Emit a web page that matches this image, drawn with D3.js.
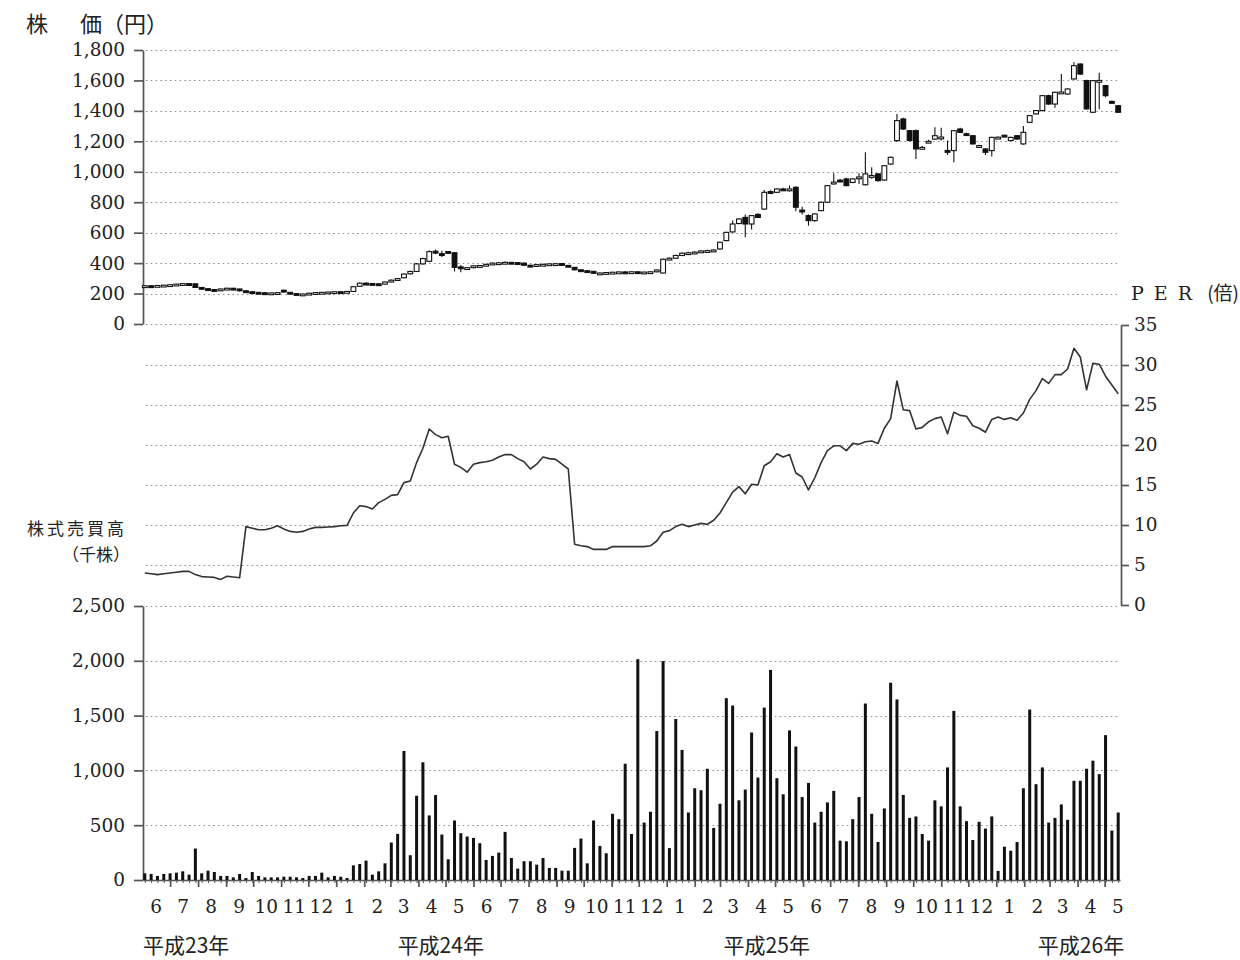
<!DOCTYPE html>
<html>
<head>
<meta charset="utf-8">
<script src="https://cdn.jsdelivr.net/npm/d3@7"></script>
<style>
  body { margin: 0; background: #fff; }
  svg { display: block; }
</style>
</head>
<body>
<svg id="chart" width="1240" height="960"></svg>
<script>
// weekly data, Friday 2011-06-03 .. Friday 2014-05-16 (155 weeks)
const priceOpen = [250,251,250,253,255,258,262,265,264,240,232,226,222,230,235,230,218,212,208,205,204,204,222,208,200,195,197,202,206,208,210,212,211,214,248,268,266,264,262,276,288,304,330,345,395,412,478,462,476,468,375,365,370,380,384,392,400,402,405,403,400,386,382,390,392,395,397,385,372,356,350,346,333,335,338,340,342,341,343,340,341,343,335,425,432,450,465,468,472,480,482,493,548,605,660,700,657,720,755,870,865,887,885,898,748,712,679,745,800,925,945,953,930,962,915,965,986,946,1051,1205,1347,1270,1270,1155,1195,1215,1222,1140,1139,1281,1250,1237,1170,1150,1139,1224,1240,1205,1237,1183,1325,1380,1402,1500,1445,1518,1511,1610,1708,1599,1391,1596,1566,1462,1434]
const priceHigh = [254,254,255,258,260,265,268,270,266,242,236,230,234,238,237,232,220,214,210,208,207,210,225,210,202,200,205,208,210,212,214,215,216,248,272,275,270,268,280,292,302,332,350,400,435,485,490,482,480,472,388,375,386,388,396,404,406,410,408,405,402,390,394,396,398,400,400,388,375,358,352,348,338,340,343,345,346,346,345,344,346,358,430,438,455,470,474,478,484,488,492,540,606,680,695,720,716,728,880,878,892,895,910,905,770,720,726,805,912,990,952,960,958,990,1128,1030,992,1045,1100,1380,1355,1275,1278,1170,1210,1292,1290,1205,1275,1290,1256,1242,1178,1155,1230,1232,1244,1230,1242,1300,1372,1406,1504,1506,1526,1642,1548,1720,1712,1604,1602,1650,1572,1468,1438]
const priceLow = [247,248,248,251,253,256,260,260,236,228,222,218,220,228,228,214,208,204,202,201,201,202,207,197,192,192,195,200,204,205,207,209,208,212,245,262,260,258,260,274,285,300,326,342,390,405,460,440,460,345,340,360,366,376,380,388,396,398,398,396,382,378,380,386,388,390,382,374,352,346,342,330,330,332,335,337,338,338,336,337,338,340,332,420,428,446,458,462,468,474,476,488,544,600,655,570,620,696,750,855,860,878,870,740,720,646,672,740,795,915,935,905,925,920,910,955,935,940,1045,1195,1275,1200,1084,1150,1190,1210,1205,1110,1062,1255,1244,1180,1166,1110,1100,1220,1230,1200,1210,1178,1320,1376,1398,1440,1420,1515,1506,1605,1636,1408,1386,1410,1490,1446,1386]
const priceClose = [251,250,253,255,258,262,265,264,240,232,226,222,230,235,232,218,212,208,205,204,204,206,210,200,195,197,202,206,208,210,212,211,214,245,268,266,264,262,276,288,298,328,345,395,430,475,466,460,466,372,366,370,382,384,392,400,402,405,403,400,386,382,390,392,395,396,385,378,356,350,346,333,335,338,340,342,341,343,340,341,343,355,425,432,450,465,468,472,480,482,486,537,602,657,690,657,712,700,865,862,887,885,887,767,745,679,723,800,909,932,940,909,953,966,986,975,942,1040,1095,1336,1281,1205,1150,1160,1200,1237,1228,1128,1270,1259,1248,1183,1172,1128,1226,1227,1234,1226,1215,1259,1369,1402,1500,1445,1522,1524,1544,1697,1642,1413,1599,1600,1500,1450,1391]
const perValues = [4.0,3.9,3.8,3.9,4.0,4.1,4.2,4.2,3.8,3.55,3.5,3.45,3.2,3.6,3.5,3.4,9.8,9.6,9.4,9.4,9.6,9.9,9.5,9.2,9.1,9.2,9.5,9.7,9.7,9.75,9.8,9.9,9.95,11.5,12.4,12.3,12.0,12.8,13.2,13.7,13.8,15.3,15.5,17.8,19.6,22.0,21.3,20.9,21.1,17.6,17.2,16.6,17.6,17.8,17.9,18.1,18.5,18.8,18.8,18.3,17.9,17.0,17.6,18.5,18.3,18.2,17.6,17.0,7.6,7.4,7.3,6.95,6.95,6.95,7.3,7.3,7.3,7.3,7.3,7.3,7.4,8.0,9.1,9.3,9.8,10.1,9.8,10.0,10.2,10.1,10.6,11.5,12.8,14.1,14.8,13.9,15.1,15.0,17.4,17.9,18.9,18.5,18.8,16.5,16.0,14.4,15.9,17.8,19.3,19.9,19.9,19.3,20.2,20.1,20.4,20.5,20.2,22.1,23.3,28.0,24.4,24.3,22.0,22.2,22.9,23.3,23.5,21.4,24.1,23.7,23.6,22.4,22.1,21.6,23.2,23.5,23.2,23.4,23.1,24.0,25.7,26.8,28.3,27.7,28.8,28.8,29.5,32.1,31.0,26.9,30.2,30.1,28.6,27.5,26.4]
const volumeValues = [61,55,37,55,61,67,79,49,287,61,85,73,37,37,24,55,18,73,37,24,24,24,30,30,24,18,37,37,67,24,37,30,18,134,146,177,49,79,152,342,421,1177,226,769,1074,589,775,415,189,543,427,397,384,336,183,220,250,439,201,104,171,171,140,201,110,110,85,85,293,378,152,543,311,244,604,555,1061,420,2015,524,623,1359,1997,291,1469,1187,616,837,819,1015,475,696,1659,1592,727,825,1346,935,1573,1917,929,782,1365,1218,757,886,524,623,708,813,359,353,555,757,1610,604,347,653,1800,1647,776,567,580,420,359,727,672,1027,1543,672,537,365,531,469,580,83,304,267,347,837,1555,874,1027,524,567,690,549,905,905,1015,1089,966,1322,451,616]

const priceTicks = [0,200,400,600,800,1000,1200,1400,1600,1800]
const perTicks = [0,5,10,15,20,25,30,35]
const volumeTicks = [0,500,1000,1500,2000,2500]
const yearLabels = ['平成23年','平成24年','平成25年','平成26年']
const yearLabelDates = [new Date(2011,5,1), new Date(2012,2,9), new Date(2013,2,5), new Date(2014,1,16)]

const weeks = d3.timeFriday.range(new Date(2011,5,3), new Date(2014,4,17))
const months = d3.timeMonth.range(new Date(2011,5,1), new Date(2014,4,18))

const $svg = d3.select('#chart')
const serif = '"DejaVu Serif", serif'
const cjk = '"Noto Sans CJK JP", sans-serif'
const axisColor = '#555'

const x = d3.scaleTime()
	.domain([new Date(2011,5,1), new Date(2014,4,18)])
	.range([143, 1120])
const yPrice = d3.scaleLinear().domain([0, 1800]).range([324, 50])
const yPer = d3.scaleLinear().domain([0, 35]).range([605, 325])
const yVol = d3.scaleLinear().domain([0, 2500]).range([880, 606])

// dotted grid
const drawGrid = (scale, values) => {
	$svg.append('g')
		.selectAll('line')
		.data(values)
		.join('line')
		.attr('x1', 146)
		.attr('x2', 1120)
		.attr('y1', d => Math.round(scale(d)) + 0.5)
		.attr('y2', d => Math.round(scale(d)) + 0.5)
		.attr('stroke', '#8c8c8c')
		.attr('stroke-width', 1.2)
		.attr('stroke-dasharray', '1.6,3.2')
}
drawGrid(yPrice, priceTicks)
drawGrid(yPer, perTicks.slice(1, 7))
drawGrid(yVol, volumeTicks.slice(1))

const styleAxis = ($g, size) => {
	$g.selectAll('path, line').attr('stroke', axisColor).attr('stroke-width', 1.7)
	$g.selectAll('text')
		.attr('fill', '#222')
		.style('font-family', serif)
		.style('font-size', size + 'px')
}

// price axis
const $priceAxis = $svg.append('g')
	.attr('transform', 'translate(143,0)')
	.call(d3.axisLeft(yPrice).tickValues(priceTicks).tickSize(9).tickSizeOuter(0)
		.tickPadding(9).tickFormat(d3.format(',')))
styleAxis($priceAxis, 18.5)

// PER axis
const $perAxis = $svg.append('g')
	.attr('transform', 'translate(1121,0)')
	.call(d3.axisRight(yPer).tickValues(perTicks).tickSize(8).tickSizeOuter(0).tickPadding(5))
styleAxis($perAxis, 18.5)

// volume axis
const $volAxis = $svg.append('g')
	.attr('transform', 'translate(143,0)')
	.call(d3.axisLeft(yVol).tickValues(volumeTicks).tickSize(9).tickSizeOuter(0)
		.tickPadding(9).tickFormat(d3.format(',')))
styleAxis($volAxis, 18.5)

// bottom time axis
const $weekAxis = $svg.append('g')
	.attr('transform', 'translate(0,880)')
	.call(d3.axisBottom(x).tickValues(weeks).tickSize(3).tickSizeOuter(0).tickFormat(''))
styleAxis($weekAxis, 18)
$weekAxis.selectAll('line').attr('stroke-width', 1)

const $monthAxis = $svg.append('g')
	.attr('transform', 'translate(0,880)')
	.call(d3.axisBottom(x).tickValues(months.slice(1)).tickSize(7).tickFormat(''))
styleAxis($monthAxis, 18)
$monthAxis.select('.domain').remove()

const $monthLabels = $svg.append('g')
	.attr('transform', 'translate(0,880)')
	.call(d3.axisBottom(x)
		.tickValues(months.map(m => d3.timeDay.offset(m, 14)))
		.tickSize(0).tickPadding(20)
		.tickFormat(d3.timeFormat('%-m')))
styleAxis($monthLabels, 18.5)
$monthLabels.select('.domain').remove()

// volume bars
$svg.append('g')
	.selectAll('rect')
	.data(volumeValues)
	.join('rect')
	.attr('x', (d, i) => x(weeks[i]) - 1.5)
	.attr('width', 3)
	.attr('y', d => yVol(d))
	.attr('height', d => yVol(0) - yVol(d))
	.attr('fill', '#111')

// PER line
const drawLine = d3.line()
	.x((d, i) => x(weeks[i]))
	.y(d => yPer(d))
$svg.append('path')
	.attr('d', drawLine(perValues))
	.attr('fill', 'none')
	.attr('stroke', '#333')
	.attr('stroke-width', 1.6)
	.attr('stroke-linejoin', 'round')

// candlesticks
const candles = weeks.map((w, i) => ({
	date: w,
	open: priceOpen[i],
	high: priceHigh[i],
	low: priceLow[i],
	close: priceClose[i]
}))
const $candles = $svg.append('g')
	.selectAll('g')
	.data(candles)
	.join('g')
$candles.append('line')
	.attr('x1', d => x(d.date))
	.attr('x2', d => x(d.date))
	.attr('y1', d => yPrice(d.high))
	.attr('y2', d => yPrice(d.low))
	.attr('stroke', '#111')
	.attr('stroke-width', 1.1)
$candles.append('rect')
	.attr('x', d => x(d.date) - 2.4)
	.attr('width', 4.8)
	.attr('y', d => yPrice(Math.max(d.open, d.close)))
	.attr('height', d => Math.max(1.8, Math.abs(yPrice(d.open) - yPrice(d.close))))
	.attr('fill', d => d.close >= d.open ? '#fff' : '#111')
	.attr('stroke', '#111')
	.attr('stroke-width', 1.1)

// titles
$svg.append('text')
	.attr('x', 26).attr('y', 32)
	.style('font-family', cjk).style('font-size', '22px').attr('fill', '#222')
	.text('株')
$svg.append('text')
	.attr('x', 80).attr('y', 32)
	.style('font-family', cjk).style('font-size', '22px').attr('fill', '#222')
	.text('価（円）')

$svg.append('text')
	.attr('x', 1131).attr('y', 300)
	.attr('letter-spacing', 10)
	.style('font-family', serif).style('font-size', '19px').attr('fill', '#222')
	.text('PER')
$svg.append('text')
	.attr('x', 1239).attr('y', 300)
	.attr('text-anchor', 'end')
	.style('font-family', cjk).style('font-size', '19px').attr('fill', '#222')
	.text('(倍)')

$svg.append('text')
	.attr('x', 127).attr('y', 535)
	.attr('text-anchor', 'end')
	.attr('letter-spacing', 3)
	.style('font-family', cjk).style('font-size', '17px').attr('fill', '#222')
	.text('株式売買高')
$svg.append('text')
	.attr('x', 130).attr('y', 561)
	.attr('text-anchor', 'end')
	.style('font-family', cjk).style('font-size', '17px').attr('fill', '#222')
	.text('（千株）')

// year labels
$svg.append('g')
	.selectAll('text')
	.data(yearLabels)
	.join('text')
	.attr('x', (d, i) => x(yearLabelDates[i]))
	.attr('y', 953)
	.style('font-family', cjk).style('font-size', '21px').attr('fill', '#222')
	.text(d => d)
</script>
</body>
</html>
